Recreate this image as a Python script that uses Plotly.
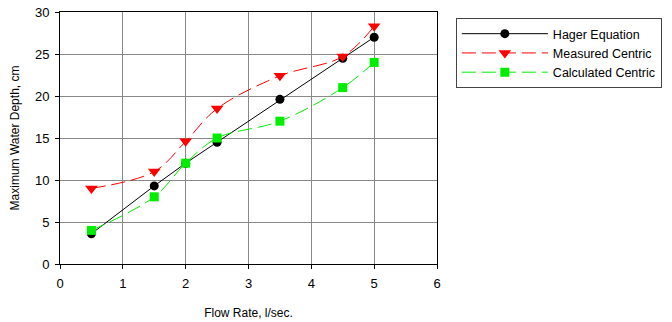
import plotly.graph_objects as go

hager_x = [0.5, 1.5, 2.0, 2.5, 3.5, 4.5, 5.0]
hager_y = [3.6, 9.3, 12.0, 14.5, 19.6, 24.5, 27.0]
meas_x = [0.5, 1.5, 2.0, 2.5, 3.5, 4.5, 5.0]
meas_y = [9.0, 11.0, 14.6, 18.5, 22.4, 24.7, 28.3]
calc_x = [0.5, 1.5, 2.0, 2.5, 3.5, 4.5, 5.0]
calc_y = [4.0, 8.0, 12.0, 15.0, 17.0, 21.0, 24.0]

fig = go.Figure()
fig.add_trace(go.Scatter(x=hager_x, y=hager_y, name="Hager Equation", mode="lines+markers",
                         line=dict(color="black", width=1),
                         marker=dict(symbol="circle", size=9, color="black")))
fig.add_trace(go.Scatter(x=meas_x, y=meas_y, name="Measured Centric", mode="lines+markers",
                         line=dict(color="red", width=1, dash="14px,6px", shape="spline"),
                         marker=dict(symbol="triangle-down", size=11, color="red")))
fig.add_trace(go.Scatter(x=calc_x, y=calc_y, name="Calculated Centric", mode="lines+markers",
                         line=dict(color="#00ee00", width=1, dash="14px,6px", shape="spline"),
                         marker=dict(symbol="square", size=9, color="#00ee00")))

font = "Liberation Sans, Arial, sans-serif"
fig.update_layout(
    width=672, height=322,
    margin=dict(l=60, r=235, t=12, b=58, autoexpand=False),
    paper_bgcolor="white", plot_bgcolor="white",
    font=dict(family=font, size=13, color="black"),
    showlegend=True,
    legend=dict(x=1.05, y=0.976, xanchor="left", yanchor="top",
                bordercolor="#444444", borderwidth=1, bgcolor="white",
                font=dict(size=12.5), itemwidth=86, tracegroupgap=0),
    xaxis=dict(range=[0, 6], dtick=1, showgrid=True, gridcolor="#888888", gridwidth=1,
               showline=True, linecolor="black", mirror=True, ticks="outside",
               ticklen=4, tickcolor="black", zeroline=False, automargin=False,
               ticklabelstandoff=3,
               title=dict(text="Flow Rate, l/sec.", font=dict(size=12), standoff=19)),
    yaxis=dict(range=[0, 30], dtick=5, showgrid=True, gridcolor="#888888", gridwidth=1,
               showline=True, linecolor="black", mirror=True, ticks="outside",
               ticklen=4, tickcolor="black", zeroline=False, automargin=False,
               ticklabelstandoff=3,
               title=dict(text="Maximum Water Depth, cm", font=dict(size=12), standoff=12)),
)
fig.write_html("out.html", config={"displayModeBar": False},
               post_script="document.body.style.margin='0px';")
